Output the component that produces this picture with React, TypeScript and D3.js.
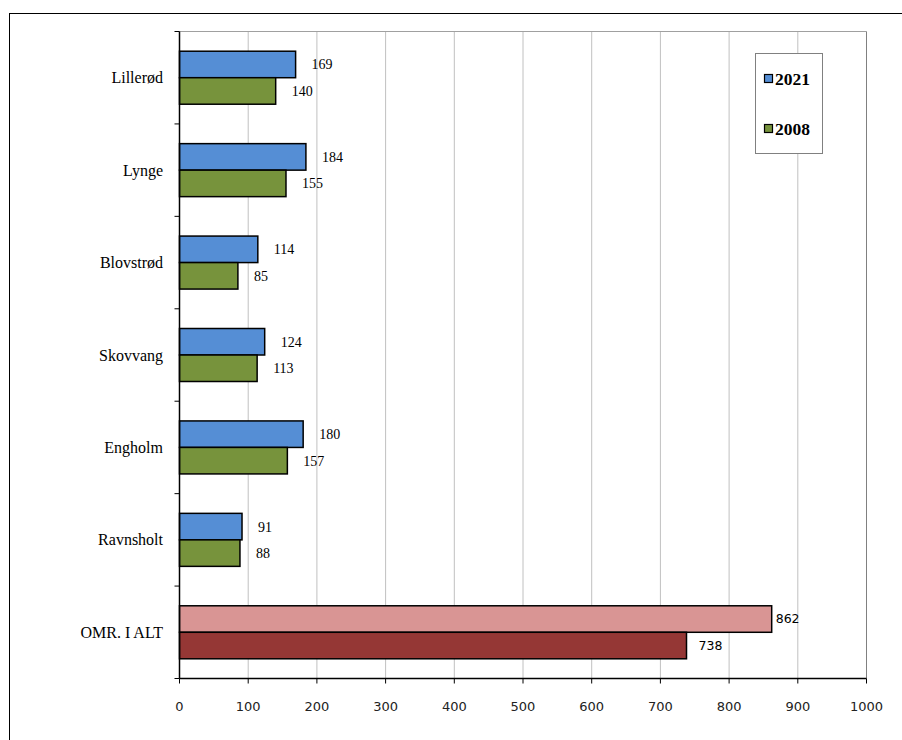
import React from "react";
import * as d3 from "d3";

const categories = ["Lillerød", "Lynge", "Blovstrød", "Skovvang", "Engholm", "Ravnsholt", "OMR. I ALT"];
const values2021 = [169, 184, 114, 124, 180, 91, 862];
const values2008 = [140, 155, 85, 113, 157, 88, 738];
const seriesNames = ["2021", "2008"];
const xTicks = [0, 100, 200, 300, 400, 500, 600, 700, 800, 900, 1000];

const colors2021 = ["#558ED5", "#558ED5", "#558ED5", "#558ED5", "#558ED5", "#558ED5", "#D99594"];
const colors2008 = ["#77933C", "#77933C", "#77933C", "#77933C", "#77933C", "#77933C", "#953735"];

export default function App() {
  const W = 902, H = 740;
  const left = 179.5, right = 866.5, top = 31.5, bottom = 678.5;
  const x = d3.scaleLinear().domain([0, 1000]).range([left, right]);
  const y = d3.scaleBand<string>().domain(categories).range([top, bottom]).paddingInner(0).paddingOuter(0);
  const bw = y.bandwidth();
  const barH = 26.5;
  const serif = "'Liberation Serif', 'Times New Roman', serif";
  const sans = "'DejaVu Sans', Verdana, sans-serif";
  const isTotal = (i: number) => i === categories.length - 1;

  return (
    <svg width={W} height={H} style={{ position: "absolute", left: 0, top: 0, background: "#fff" }}>
      <rect x={9.5} y={13.5} width={W + 10} height={H + 10} fill="#fff" stroke="#000" strokeWidth={1} />
      {/* gridlines */}
      {xTicks.slice(1, -1).map((t) => (
        <line key={t} x1={x(t)} x2={x(t)} y1={top} y2={bottom} stroke="#c0c0c0" strokeWidth={1} />
      ))}
      {/* plot border top/right */}
      <line x1={left} x2={right} y1={top} y2={top} stroke="#a0a0a0" />
      <line x1={right} x2={right} y1={top} y2={bottom} stroke="#808080" />
      {/* bars */}
      {categories.map((c, i) => {
        const y0 = (y(c) as number) + bw / 2 - barH;
        const lf = isTotal(i) ? sans : serif;
        const ls = isTotal(i) ? 12.5 : 14;
        return (
          <g key={c}>
            <rect x={x(0)} y={y0} width={x(values2021[i]) - x(0)} height={barH} fill={colors2021[i]} stroke="#000" strokeWidth={1.5} />
            <rect x={x(0)} y={y0 + barH} width={x(values2008[i]) - x(0)} height={barH} fill={colors2008[i]} stroke="#000" strokeWidth={1.5} />
            <text x={x(values2021[i]) + (isTotal(i) ? 4 : 16)} y={y0 + barH / 2} dy="0.35em" fontFamily={lf} fontSize={ls} fill="#000">
              {values2021[i]}
            </text>
            <text x={x(values2008[i]) + (isTotal(i) ? 12 : 16)} y={y0 + barH * 1.5} dy="0.35em" fontFamily={lf} fontSize={ls} fill="#000">
              {values2008[i]}
            </text>
            <text x={163} y={(y(c) as number) + bw / 2} dy="0.35em" textAnchor="end" fontFamily={serif} fontSize={16} fill="#000">
              {c}
            </text>
          </g>
        );
      })}
      {/* left axis */}
      <line x1={left} x2={left} y1={top} y2={bottom} stroke="#000" strokeWidth={1.5} />
      {categories.map((c) => (
        <line key={c} x1={left - 5} x2={left} y1={y(c) as number} y2={y(c) as number} stroke="#000" />
      ))}
      <line x1={left - 5} x2={left} y1={bottom} y2={bottom} stroke="#000" />
      {/* bottom axis */}
      <line x1={left} x2={right} y1={bottom} y2={bottom} stroke="#000" strokeWidth={1.5} />
      {xTicks.map((t) => (
        <g key={t}>
          <line x1={x(t)} x2={x(t)} y1={bottom} y2={bottom + 5} stroke="#000" />
          <text x={x(t)} y={706} dy="0.35em" textAnchor="middle" fontFamily={sans} fontSize={13} fill="#222">
            {t}
          </text>
        </g>
      ))}
      {/* legend */}
      <rect x={755.5} y={53.5} width={67} height={100} fill="#fff" stroke="#808080" />
      {seriesNames.map((s, i) => (
        <g key={s}>
          <rect x={764.5} y={74.5 + i * 50} width={8} height={8} fill={i === 0 ? colors2021[0] : colors2008[0]} stroke="#000" strokeWidth={1.2} />
          <text x={775} y={79 + i * 50} dy="0.35em" fontFamily={serif} fontWeight="bold" fontSize={17.5} fill="#000">
            {s}
          </text>
        </g>
      ))}
    </svg>
  );
}
